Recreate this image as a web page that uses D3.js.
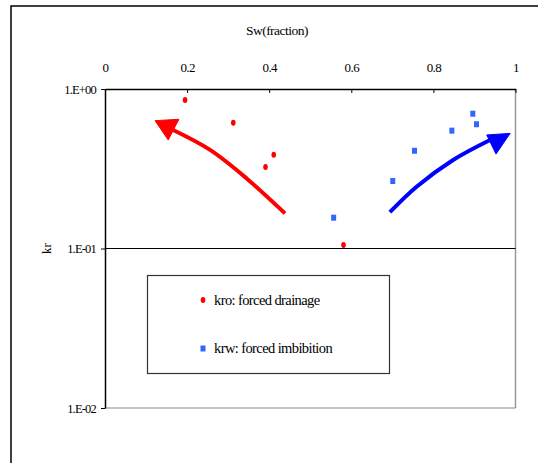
<!DOCTYPE html>
<html><head><meta charset="utf-8">
<script src="https://cdn.jsdelivr.net/npm/d3@7"></script>
<style>
body{margin:0;background:#fff;}
</style></head>
<body><svg id="c" width="538" height="463"></svg>
<script>
// Data
const xTicks = [0, 0.2, 0.4, 0.6, 0.8, 1];
const xTickLabels = ["0", "0.2", "0.4", "0.6", "0.8", "1"];
const yTicks = [1, 0.1, 0.01];
const yTickLabels = ["1.E+00", "1.E-01", "1.E-02"];
const kroSw = [0.195, 0.3125, 0.391, 0.411, 0.581];
const kroKr = [0.853, 0.615, 0.324, 0.387, 0.105];
const krwSw = [0.557, 0.701, 0.754, 0.845, 0.896, 0.905];
const krwKr = [0.156, 0.265, 0.410, 0.548, 0.700, 0.601];
const seriesNames = ["kro: forced drainage", "krw: forced imbibition"];
// annotation arrows (data coordinates)
const redArrowSw = [0.4385, 0.345, 0.256, 0.166];
const redArrowKr = [0.166, 0.275, 0.415, 0.553];
const redHeadSw = [0.122, 0.180, 0.154];
const redHeadKr = [0.633, 0.646, 0.479];
const blueArrowSw = [0.694, 0.759, 0.848, 0.938];
const blueArrowKr = [0.169, 0.244, 0.359, 0.479];
const blueHeadSw = [0.987, 0.930, 0.9525];
const blueHeadKr = [0.527, 0.515, 0.391];

const FONT = "'Liberation Serif', 'DejaVu Serif', serif";
const svg = d3.select("#c");
const L = 105, R = 515.5, T = 89, B = 408;
const x = d3.scaleLinear().domain([0, 1]).range([L, R]);
const y = d3.scaleLog().domain([0.01, 1]).range([B, T]);

// outer chart border
svg.append("rect").attr("x", 11).attr("y", 6).attr("width", 600).attr("height", 600)
  .attr("fill", "none").attr("stroke", "#000").attr("stroke-width", 1.5);

// plot area right/bottom (gray)
svg.append("line").attr("x1", R).attr("x2", R).attr("y1", T).attr("y2", B).attr("stroke", "#999").attr("stroke-width", 1.5);
svg.append("line").attr("x1", L).attr("x2", R).attr("y1", B).attr("y2", B).attr("stroke", "#888").attr("stroke-width", 1.2);
// gridline at 0.1
svg.append("line").attr("x1", L).attr("x2", R).attr("y1", y(0.1)).attr("y2", y(0.1)).attr("stroke", "#000").attr("stroke-width", 1.2);

// top axis
const xa = svg.append("g").attr("transform", `translate(0,${T})`)
  .call(d3.axisTop(x).tickValues(xTicks).tickFormat((d, i) => xTickLabels[i]).tickSize(-4).tickSizeOuter(0).tickPadding(17))
  .attr("font-family", FONT).attr("font-size", 13);
xa.select(".domain").attr("stroke-width", 1.5);
xa.selectAll("text").style("font-family", FONT).attr("font-size", 13).attr("letter-spacing", -0.6);
// left axis
const ya = svg.append("g").attr("transform", `translate(${L},0)`)
  .call(d3.axisLeft(y).tickValues(yTicks).tickFormat((d, i) => yTickLabels[i]).tickSize(4).tickSizeOuter(0).tickPadding(5))
  .attr("font-family", FONT).attr("font-size", 12.5);
ya.select(".domain").attr("stroke-width", 1.5);
ya.selectAll("text").style("font-family", FONT).attr("font-size", 12.5).attr("letter-spacing", -0.8);

// titles
svg.append("text").attr("x", 277).attr("y", 35).attr("text-anchor", "middle").style("font-family", FONT)
  .attr("font-size", 13.5).attr("letter-spacing", -0.5).text("Sw(fraction)");
svg.append("text").attr("transform", `translate(51,${y(0.1)}) rotate(-90)`).attr("text-anchor", "middle")
  .style("font-family", FONT).attr("font-size", 13).text("kr");

// points
const kro = kroSw.map((s, i) => ({ s, k: kroKr[i] }));
const krw = krwSw.map((s, i) => ({ s, k: krwKr[i] }));
svg.append("g").selectAll("ellipse").data(kro).join("ellipse")
  .attr("cx", d => x(d.s)).attr("cy", d => y(d.k)).attr("rx", 2.3).attr("ry", 3).attr("fill", "#FF0000");
svg.append("g").selectAll("rect").data(krw).join("rect")
  .attr("x", d => x(d.s) - 2.5).attr("y", d => y(d.k) - 3).attr("width", 5).attr("height", 6).attr("fill", "#3366FF");

// arrows
const line = d3.line().x(d => x(d[0])).y(d => y(d[1])).curve(d3.curveCatmullRom);
function arrow(sw, kr, hs, hk, col) {
  svg.append("path").attr("d", line(sw.map((s, i) => [s, kr[i]])))
    .attr("fill", "none").attr("stroke", col).attr("stroke-width", 4);
  svg.append("path").attr("d", d3.line().x(d => x(d[0])).y(d => y(d[1]))(hs.map((s, i) => [s, hk[i]])) + "Z")
    .attr("fill", col).attr("stroke", col).attr("stroke-width", 1);
}
arrow(redArrowSw, redArrowKr, redHeadSw, redHeadKr, "#FF0000");
arrow(blueArrowSw, blueArrowKr, blueHeadSw, blueHeadKr, "#0000FF");

// legend
const lg = svg.append("g");
lg.append("rect").attr("x", 147.5).attr("y", 275.5).attr("width", 242).attr("height", 98)
  .attr("fill", "#fff").attr("stroke", "#333").attr("stroke-width", 1.2);
lg.append("ellipse").attr("cx", 203).attr("cy", 300).attr("rx", 2.3).attr("ry", 3).attr("fill", "#FF0000");
lg.append("rect").attr("x", 200.5).attr("y", 345.5).attr("width", 5).attr("height", 6).attr("fill", "#3366FF");
lg.append("text").attr("x", 214).attr("y", 305).style("font-family", FONT).attr("font-size", 14.5).attr("letter-spacing", -0.6).text(seriesNames[0]);
lg.append("text").attr("x", 214).attr("y", 353).style("font-family", FONT).attr("font-size", 14.5).attr("letter-spacing", -0.6).text(seriesNames[1]);
</script></body></html>
